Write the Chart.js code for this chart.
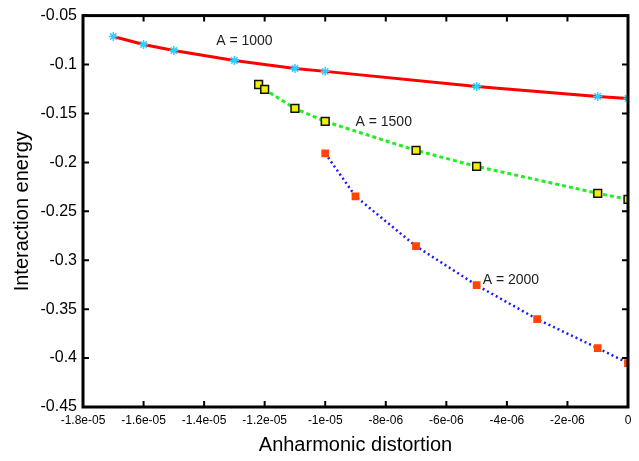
<!DOCTYPE html>
<html>
<head>
<meta charset="utf-8">
<script src="https://cdn.jsdelivr.net/npm/chart.js@4"></script>
<style>
  html, body { margin: 0; padding: 0; background: #fff; }
  #wrap { width: 639px; height: 461px; }
</style>
</head>
<body>
<div id="wrap"><canvas id="energyChart" width="639" height="461"></canvas></div>
<script>
/* ===============================
   DATA
================================ */
const xTicks = [-1.8e-5, -1.6e-5, -1.4e-5, -1.2e-5, -1e-5, -8e-6, -6e-6, -4e-6, -2e-6, 0];
const yTicks = [-0.05, -0.1, -0.15, -0.2, -0.25, -0.3, -0.35, -0.4, -0.45];

const x1000 = [-1.7e-5, -1.6e-5, -1.5e-5, -1.3e-5, -1.1e-5, -1e-5, -5e-6, -1e-6, 0];
const y1000 = [-0.0714, -0.0796, -0.0857, -0.0959, -0.104, -0.107, -0.1224, -0.1327, -0.1347];

const x1500 = [-1.22e-5, -1.2e-5, -1.1e-5, -1e-5, -7e-6, -5e-6, -1e-6, 0];
const y1500 = [-0.1204, -0.1255, -0.1449, -0.1582, -0.1878, -0.2041, -0.2316, -0.2378];

const x2000 = [-1e-5, -9e-6, -7e-6, -5e-6, -3e-6, -1e-6, 0];
const y2000 = [-0.1908, -0.2347, -0.2857, -0.3255, -0.3602, -0.3898, -0.4051];

const labels = [
  { text: "A = 1000", x: -1.36e-5, y: -0.0765 },
  { text: "A = 1500", x: -9.0e-6, y: -0.159 },
  { text: "A = 2000", x: -4.8e-6, y: -0.320 }
];

const pts = (xs, ys) => xs.map((x, i) => ({ x, y: ys[i] }));

/* ===============================
   TICK FORMAT (like %g)
================================ */
function fmtX(v) {
  if (Math.abs(v) < 1e-12) return "0";
  let s = Number(v.toPrecision(3)).toExponential();
  return s.replace(/e([+-])(\d)$/, "e$10$2");
}
function fmtY(v) {
  return String(Number(v.toFixed(3)));
}

/* ===============================
   FRAME + INWARD TICKS + TEXT
================================ */
const framePlugin = {
  id: "frame",
  afterDatasetsDraw(chart) {
    const { ctx, chartArea: a, scales } = chart;
    ctx.save();
    ctx.strokeStyle = "#000";
    ctx.lineWidth = 2;
    ctx.beginPath();
    xTicks.forEach(v => {
      const px = scales.x.getPixelForValue(v);
      ctx.moveTo(px, a.bottom); ctx.lineTo(px, a.bottom - 6);
      ctx.moveTo(px, a.top); ctx.lineTo(px, a.top + 6);
    });
    yTicks.forEach(v => {
      const py = scales.y.getPixelForValue(v);
      ctx.moveTo(a.left, py); ctx.lineTo(a.left + 6, py);
      ctx.moveTo(a.right, py); ctx.lineTo(a.right - 6, py);
    });
    ctx.stroke();
    ctx.lineWidth = 3;
    ctx.strokeRect(a.left, a.top, a.right - a.left, a.bottom - a.top);

    ctx.fillStyle = "#222";
    ctx.font = "14px 'Liberation Sans', Arial, sans-serif";
    ctx.textBaseline = "middle";
    ctx.textAlign = "left";
    labels.forEach(l => {
      ctx.fillText(l.text, scales.x.getPixelForValue(l.x), scales.y.getPixelForValue(l.y));
    });
    ctx.restore();
  }
};

/* ===============================
   CHART
================================ */
Chart.defaults.font.family = "'Liberation Sans', Arial, sans-serif";
Chart.defaults.color = "#000";

new Chart(document.getElementById("energyChart"), {
  type: "line",
  data: {
    datasets: [
      {
        data: pts(x1000, y1000),
        borderColor: "#ff0000",
        borderWidth: 3,
        pointStyle: "star",
        pointRadius: 4.5,
        pointBorderColor: "#33ccff",
        pointBorderWidth: 1.5,
        pointBackgroundColor: "#33ccff"
      },
      {
        data: pts(x1500, y1500),
        borderColor: "#22ee22",
        borderWidth: 3,
        borderDash: [4, 3],
        pointStyle: "rect",
        pointRadius: 5.5,
        pointBorderColor: "#111",
        pointBorderWidth: 1.5,
        pointBackgroundColor: "#f0f000"
      },
      {
        data: pts(x2000, y2000),
        borderColor: "#1a1aff",
        borderWidth: 2.5,
        borderDash: [2, 3],
        pointStyle: "rect",
        pointRadius: 5.5,
        pointBorderWidth: 0,
        pointBackgroundColor: "#ff4500"
      }
    ]
  },
  options: {
    responsive: false,
    animation: false,
    layout: { padding: { top: 15, right: 11, left: 0, bottom: 0 } },
    plugins: { legend: { display: false }, tooltip: { enabled: false } },
    scales: {
      x: {
        type: "linear",
        min: -1.8e-5,
        max: 0,
        grid: { display: false, drawTicks: false },
        border: { display: false },
        afterBuildTicks: s => { s.ticks = xTicks.map(v => ({ value: v })); },
        afterFit: s => { s.height = 54; },
        ticks: {
          autoSkip: false,
          maxRotation: 0,
          padding: 6,
          font: { size: 12 },
          callback: v => fmtX(v)
        },
        title: {
          display: true,
          text: "Anharmonic distortion",
          font: { size: 20 },
          padding: { top: 6 }
        }
      },
      y: {
        type: "linear",
        min: -0.45,
        max: -0.05,
        grid: { display: false, drawTicks: false },
        border: { display: false },
        afterBuildTicks: s => { s.ticks = yTicks.map(v => ({ value: v })); },
        afterFit: s => { s.width = 83; },
        ticks: {
          autoSkip: false,
          padding: 6,
          font: { size: 16 },
          callback: v => fmtY(v)
        },
        title: {
          display: true,
          text: "Interaction energy",
          font: { size: 20 },
          padding: { top: 10, bottom: 2 }
        }
      }
    }
  },
  plugins: [framePlugin]
});
</script>
</body>
</html>
